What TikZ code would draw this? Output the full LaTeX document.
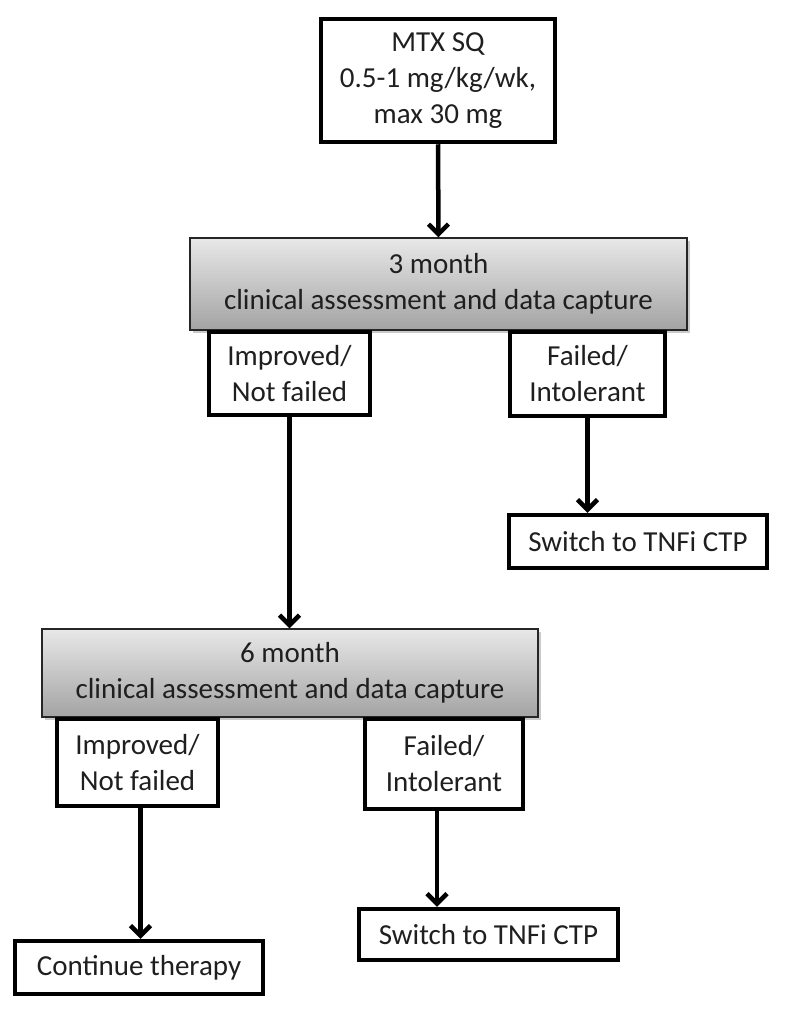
\documentclass[tikz,border=0pt]{standalone}
\usepackage{fontspec}
\setmainfont{Carlito}
\usetikzlibrary{arrows.meta,shadows,calc}
\begin{document}
\begin{tikzpicture}[x=1pt,y=-1pt,
  txt/.style={font=\fontsize{29}{36}\selectfont, text=black!88, align=center, inner sep=0pt},
  wbox/.style={txt, draw=black, line width=4.5pt, fill=white},
  gbox/.style={txt, draw=black!85, line width=1.5pt, top color=gray!18, bottom color=gray!72,
     drop shadow={shadow xshift=3pt, shadow yshift=-3pt, opacity=0.35, fill=black!60}},
  arr/.style={line width=4.5pt, -{Straight Barb[length=10pt,width=20pt,line width=4.5pt]}}
]
\useasboundingbox (0,0) rectangle (789,1012);
\node[wbox, minimum width=234pt, minimum height=123pt] (top) at (438,80.5) {MTX SQ\\0.5-1 mg/kg/wk,\\max 30 mg};
\node[gbox, minimum width=497pt, minimum height=92pt] (m3) at (438.5,284) {3 month\\clinical assessment and data capture};
\node[wbox, minimum width=161pt, minimum height=83pt] (imp1) at (289.5,373.5) {Improved/\\Not failed};
\node[wbox, minimum width=155pt, minimum height=84pt] (fail1) at (587.5,374) {Failed/\\Intolerant};
\node[wbox, minimum width=258pt, minimum height=53pt] (sw1) at (638,541.5) {Switch to TNFi CTP};
\node[gbox, minimum width=496pt, minimum height=88pt] (m6) at (290,673) {6 month\\clinical assessment and data capture};
\node[wbox, minimum width=161pt, minimum height=87pt] (imp2) at (137.5,762.5) {Improved/\\Not failed};
\node[wbox, minimum width=158pt, minimum height=90pt] (fail2) at (444,764) {Failed/\\Intolerant};
\node[wbox, minimum width=248pt, minimum height=53pt] (cont) at (139,967.5) {Continue therapy};
\node[wbox, minimum width=259pt, minimum height=51pt] (sw2) at (488.5,934.5) {Switch to TNFi CTP};
\draw[arr] (top.south) -- (m3.north);
\draw[arr] (imp1.south) -- (imp1.south |- m6.north);
\draw[arr] (fail1.south) -- (fail1.south |- sw1.north);
\draw[arr] ([xshift=3pt]imp2.south) -- ([xshift=3pt]imp2.south |- cont.north);
\draw[arr] ([xshift=-7pt]fail2.south) -- ([xshift=-7pt]fail2.south |- sw2.north);
\end{tikzpicture}
\end{document}
